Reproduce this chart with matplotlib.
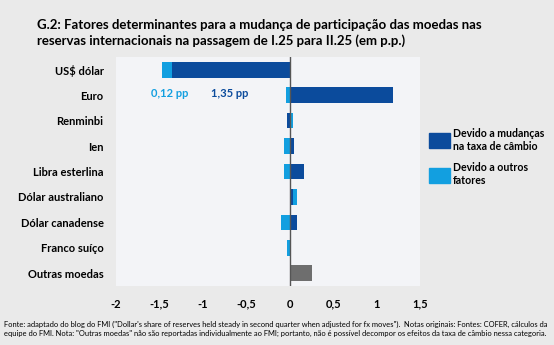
import numpy as np
import matplotlib.pyplot as plt
from matplotlib.patches import Patch

plt.rcParams['font.family'] = ['Lato', 'DejaVu Sans']

categorias = ['US$ dólar', 'Euro', 'Renminbi', 'Ien', 'Libra esterlina',
              'Dólar australiano', 'Dólar canadense', 'Franco suíço', 'Outras moedas']
cambio = [-1.35, 1.19, -0.03, 0.05, 0.16, 0.04, 0.085, 0.02, np.nan]
outros = [-0.12, -0.04, 0.04, -0.07, -0.07, 0.04, -0.10, -0.03, np.nan]
outras_moedas = [np.nan] * 8 + [0.26]

xticks = [-2, -1.5, -1, -0.5, 0, 0.5, 1, 1.5]
xticklabels = ['-2', '-1,5', '-1', '-0,5', '0', '0,5', '1', '1,5']

escuro = '#0B4B9C'
claro = '#129FE0'
cinza = '#6E6E6E'

fig = plt.figure(figsize=(5.54, 3.45), dpi=100)
fig.patch.set_facecolor('#EAEAEA')
ax = fig.add_axes([0.2094, 0.171, 0.5487, 0.6638])
ax.set_facecolor('#F3F4F7')

y = np.arange(len(categorias))
c = np.array(cambio)
o = np.array(outros)
inicio = np.where(np.sign(c) == np.sign(o), c, 0)

ax.barh(y, c, height=0.62, color=escuro, zorder=2)
ax.barh(y, o, left=inicio, height=0.62, color=claro, zorder=2)
ax.barh(y, outras_moedas, height=0.62, color=cinza, zorder=2)
ax.axvline(0, color='#555555', lw=1, zorder=3)

ax.set_xlim(-2, 1.5)
ax.set_ylim(len(categorias) - 0.5, -0.5)
ax.set_yticks(y, categorias, fontsize=8, fontweight='bold')
ax.set_xticks(xticks, xticklabels, fontsize=8, fontweight='bold')
ax.tick_params(length=0, pad=9)
ax.tick_params(axis='y', pad=9)
for s in ax.spines.values():
    s.set_visible(False)

ax.text(-1.38, 0.95, '0,12 pp', color=claro, fontsize=8, fontweight='bold', ha='center', va='center')
ax.text(-0.69, 0.95, '1,35 pp', color=escuro, fontsize=8, fontweight='bold', ha='center', va='center')

handles = [Patch(color=escuro), Patch(color=claro)]
fig.legend(handles, ['Devido a mudanças\nna taxa de câmbio', 'Devido a outros\nfatores'],
           loc='center left', bbox_to_anchor=(0.757, 0.545), frameon=False,
           prop={'size': 7.6, 'weight': 'bold'}, handlelength=2.0, handleheight=1.8,
           handletextpad=0.3, labelspacing=1.0)

fig.text(0.067, 0.945, 'G.2: Fatores determinantes para a mudança de participação das moedas nas\n'
         'reservas internacionais na passagem de I.25 para II.25 (em p.p.)',
         fontsize=9.5, fontweight='bold', va='top', ha='left', linespacing=1.3)

fig.text(0.008, 0.022, 'Fonte: adaptado do blog do FMI ("Dollar\'s share of reserves held steady in second quarter when adjusted for fx moves").  '
         'Notas originais: Fontes: COFER, cálculos da\nequipe do FMI. Nota: "Outras moedas" não são reportadas individualmente ao FMI; '
         'portanto, não é possível decompor os efeitos da taxa de câmbio nessa categoria.',
         fontsize=5.4, va='bottom', ha='left', linespacing=1.45)

fig.savefig('out.png', dpi=100, facecolor=fig.get_facecolor())
